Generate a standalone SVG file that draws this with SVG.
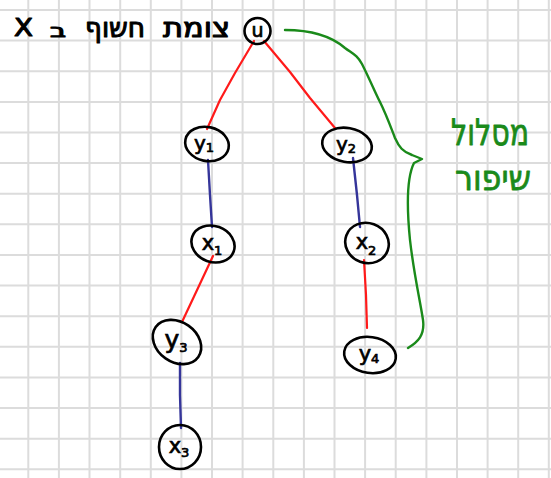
<svg xmlns="http://www.w3.org/2000/svg" width="551" height="478" viewBox="0 0 551 478">
  <style>
    .grid { stroke: #dcdcdc; stroke-width: 2; fill: none; }
    .node { fill: none; stroke: #000; stroke-width: 2.6; }
    .lbl { font-family: "DejaVu Sans", "Liberation Sans", sans-serif; fill: #000; stroke: #000; stroke-width: 0.7; text-anchor: middle; }
    .sub { font-size: 13px; }
    .red { stroke: #ff1a1a; stroke-width: 2.2; fill: none; stroke-linecap: round; stroke-linejoin: round; }
    .blue { stroke: #35359a; stroke-width: 2.4; fill: none; stroke-linecap: round; }
    .green { stroke: #1a8a1a; stroke-width: 2.4; fill: none; stroke-linecap: round; stroke-linejoin: round; }
    .note { font-family: "DejaVu Sans", "Liberation Sans", sans-serif; fill: #000; stroke: #000; stroke-width: 1.1; stroke-linejoin: round; }
    .gnote { font-family: "DejaVu Sans", "Liberation Sans", sans-serif; fill: #1a8a1a; stroke: #1a8a1a; stroke-width: 0.8; stroke-linejoin: round; text-anchor: middle; }
  </style>

  <rect width="551" height="478" fill="#fff"/>

  <!-- squared paper -->
  <path class="grid" d="M28.3 0V478M58.9 0V478M89.5 0V478M120.2 0V478M150.8 0V478M181.4 0V478M212 0V478M242.6 0V478M273.3 0V478M303.9 0V478M334.5 0V478M365.1 0V478M395.7 0V478M426.4 0V478M457 0V478M487.6 0V478M518.2 0V478M548.8 0V478
    M0 10H551M0 40.6H551M0 71.2H551M0 101.9H551M0 132.5H551M0 163.1H551M0 193.7H551M0 224.3H551M0 255H551M0 285.6H551M0 316.2H551M0 346.8H551M0 377.4H551M0 408.1H551M0 438.7H551M0 469.3H551"/>

  <!-- caption next to the root -->
  <g id="caption">
    <text class="note" x="14" y="36" font-size="24" textLength="19" lengthAdjust="spacingAndGlyphs">X</text>
    <text class="note" x="50" y="37" font-size="18" textLength="16" lengthAdjust="spacingAndGlyphs">ב</text>
    <text class="note" x="85" y="37" font-size="27" textLength="60" lengthAdjust="spacingAndGlyphs">חשוף</text>
    <text class="note" x="163" y="37" font-size="27" textLength="67" lengthAdjust="spacingAndGlyphs">צומת</text>
  </g>

  <!-- connectors -->
  <g id="edges">
    <path class="red" d="M254 41L235 73L220 100L207 129"/>
    <path class="red" d="M264 41L290 72L310 98L335 128"/>
    <path class="blue" d="M208 160L210 195L212 227"/>
    <path class="blue" d="M353 158L357 195L360 227"/>
    <path class="red" d="M213 256L198 288L182 322"/>
    <path class="red" d="M364 260L366 295L367 328"/>
    <path class="blue" d="M180 363L180 395L181 428"/>
  </g>

  <!-- brace marking the augmenting path -->
  <g id="brace">
    <path class="green" d="M285 30C310 30 330 35 345 48C353 54 357 55 362 64C370 80 375 92 380 102C386 114 390 125 395 138C399 147 403 152 412 155L422 159L414 163C408 175 406 200 410 240C414 275 420 300 423 320C425 335 418 342 408 348"/>
  </g>

  <g id="path-label">
    <text class="gnote" x="490" y="145" font-size="36" textLength="78" lengthAdjust="spacingAndGlyphs">מסלול</text>
    <text class="gnote" x="493" y="190" font-size="34" textLength="76" lengthAdjust="spacingAndGlyphs">שיפור</text>
  </g>

  <!-- nodes -->
  <g id="node-u">
    <circle class="node" cx="257.5" cy="31" r="13"/>
    <text class="lbl" x="257.5" y="37" font-size="19">u</text>
  </g>
  <g id="node-y1">
    <ellipse class="node" cx="207" cy="144" rx="22" ry="17" transform="rotate(12 207 144)"/>
    <text class="lbl" x="204" y="150" font-size="20">y<tspan class="sub" dy="2">1</tspan></text>
  </g>
  <g id="node-y2">
    <ellipse class="node" cx="347" cy="145" rx="25" ry="17" transform="rotate(10 347 145)"/>
    <text class="lbl" x="346" y="151" font-size="20">y<tspan class="sub" dy="2">2</tspan></text>
  </g>
  <g id="node-x1">
    <ellipse class="node" cx="213" cy="244" rx="22" ry="18" transform="rotate(20 213 244)"/>
    <text class="lbl" x="212" y="250" font-size="21">x<tspan class="sub" dy="5">1</tspan></text>
  </g>
  <g id="node-x2">
    <ellipse class="node" cx="367" cy="243" rx="22" ry="20" transform="rotate(20 367 243)"/>
    <text class="lbl" x="366" y="249" font-size="21">x<tspan class="sub" dy="6">2</tspan></text>
  </g>
  <g id="node-y3">
    <ellipse class="node" cx="177" cy="342" rx="26" ry="20" transform="rotate(35 177 342)"/>
    <text class="lbl" x="176" y="348" font-size="25">y<tspan class="sub" font-size="17" dy="4">3</tspan></text>
  </g>
  <g id="node-y4">
    <ellipse class="node" cx="370" cy="355" rx="26" ry="18" transform="rotate(8 370 355)"/>
    <text class="lbl" x="369" y="361" font-size="21">y<tspan class="sub" dy="2">4</tspan></text>
  </g>
  <g id="node-x3">
    <ellipse class="node" cx="180" cy="447" rx="21" ry="22"/>
    <text class="lbl" x="179" y="453" font-size="21">x<tspan class="sub" dy="4">3</tspan></text>
  </g>
</svg>
